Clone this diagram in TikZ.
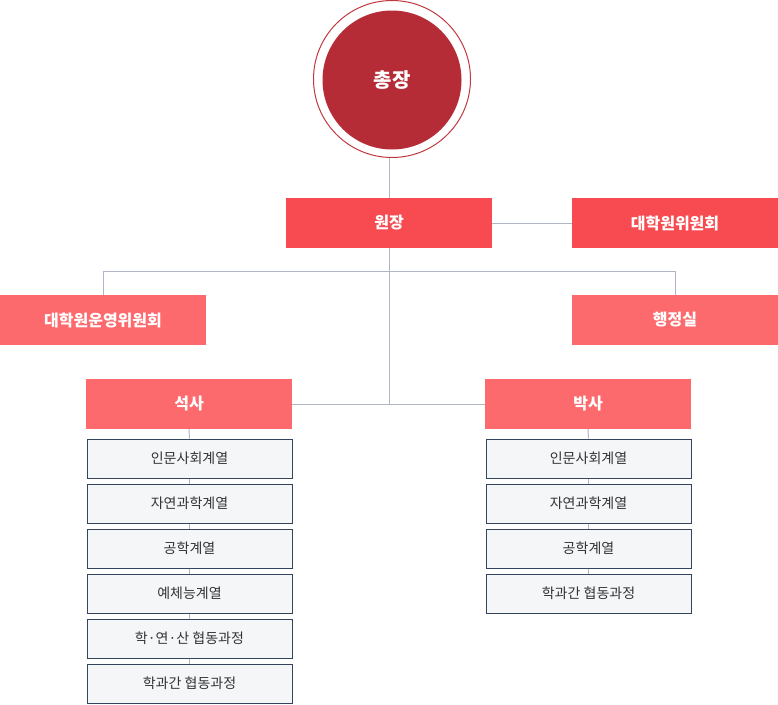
\documentclass[tikz,border=0pt]{standalone}
\usepackage{fontspec}
\newfontfamily\kr{Noto Sans CJK KR}
\definecolor{chiefred}{HTML}{B52B36}
\definecolor{ringred}{HTML}{C0393F}
\definecolor{deepred}{HTML}{F84B51}
\definecolor{lightred}{HTML}{FD6A6E}
\definecolor{subfill}{HTML}{F5F6F8}
\definecolor{subline}{HTML}{34445C}
\definecolor{linkgray}{HTML}{B1B6C6}
\tikzset{
  redbox/.style={rectangle,minimum width=206pt,minimum height=50pt,inner sep=0pt,
    text=white,font=\kr\bfseries\fontsize{16}{18}\selectfont},
  subbox/.style={rectangle,draw=subline,line width=1pt,fill=subfill,
    minimum width=205pt,minimum height=39pt,inner sep=0pt,
    text=black!80,font=\kr\fontsize{14}{16}\selectfont},
  link/.style={draw=linkgray,line width=1pt}
}
\begin{document}
\begin{tikzpicture}[x=1pt,y=-1pt]
  \useasboundingbox (0,0) rectangle (778,704);

  % 총장
  \node (ring) [circle,draw=ringred,line width=1pt,minimum size=157pt,inner sep=0pt] at (392,79) {};
  \node (chief) [circle,fill=chiefred,minimum size=139pt,inner sep=0pt,text=white,
    font=\kr\bfseries\fontsize{20}{22}\selectfont] at (392,80) {총장};

  % 원장 / 위원회
  \node (dean) [redbox,fill=deepred] at (389,223) {원장};
  \node (gradcom) [redbox,fill=deepred] at (675,223) {대학원위원회};
  \node (opcom) [redbox,fill=lightred] at (103,320) {대학원운영위원회};
  \node (office) [redbox,fill=lightred] at (675,320) {행정실};

  % 석사 / 박사
  \node (master) [redbox,fill=lightred] at (189,404) {석사};
  \node (doctor) [redbox,fill=lightred] at (588,404) {박사};

  % 계열
  \node (m1) [subbox] at (189.5,458.5) {인문사회계열};
  \node (m2) [subbox] at (189.5,503.5) {자연과학계열};
  \node (m3) [subbox] at (189.5,548.5) {공학계열};
  \node (m4) [subbox] at (189.5,593.5) {예체능계열};
  \node (m5) [subbox] at (189.5,638.5) {학·연·산 협동과정};
  \node (m6) [subbox] at (189.5,683.5) {학과간 협동과정};

  \node (d1) [subbox] at (588.5,458.5) {인문사회계열};
  \node (d2) [subbox] at (588.5,503.5) {자연과학계열};
  \node (d3) [subbox] at (588.5,548.5) {공학계열};
  \node (d4) [subbox] at (588.5,593.5) {학과간 협동과정};

  % 연결선
  \coordinate (branch) at (389,271);
  \draw[link] (dean.north) -- (dean.north |- ring.south);
  \draw[link] (dean.east) -- (gradcom.west);
  \draw[link] (dean.south) -- (dean.south |- master.east);
  \draw[link] (master.east) -- (doctor.west);
  \draw[link] (opcom.north) -- (opcom.north |- branch) -- (office.north |- branch) -- (office.north);

  \draw[link] (master.south) -- (m1.north);
  \foreach \a/\b in {m1/m2,m2/m3,m3/m4,m4/m5,m5/m6}
    \draw[link] (\a.south) -- (\b.north);
  \draw[link] (doctor.south) -- (d1.north);
  \foreach \a/\b in {d1/d2,d2/d3,d3/d4}
    \draw[link] (\a.south) -- (\b.north);
\end{tikzpicture}
\end{document}
